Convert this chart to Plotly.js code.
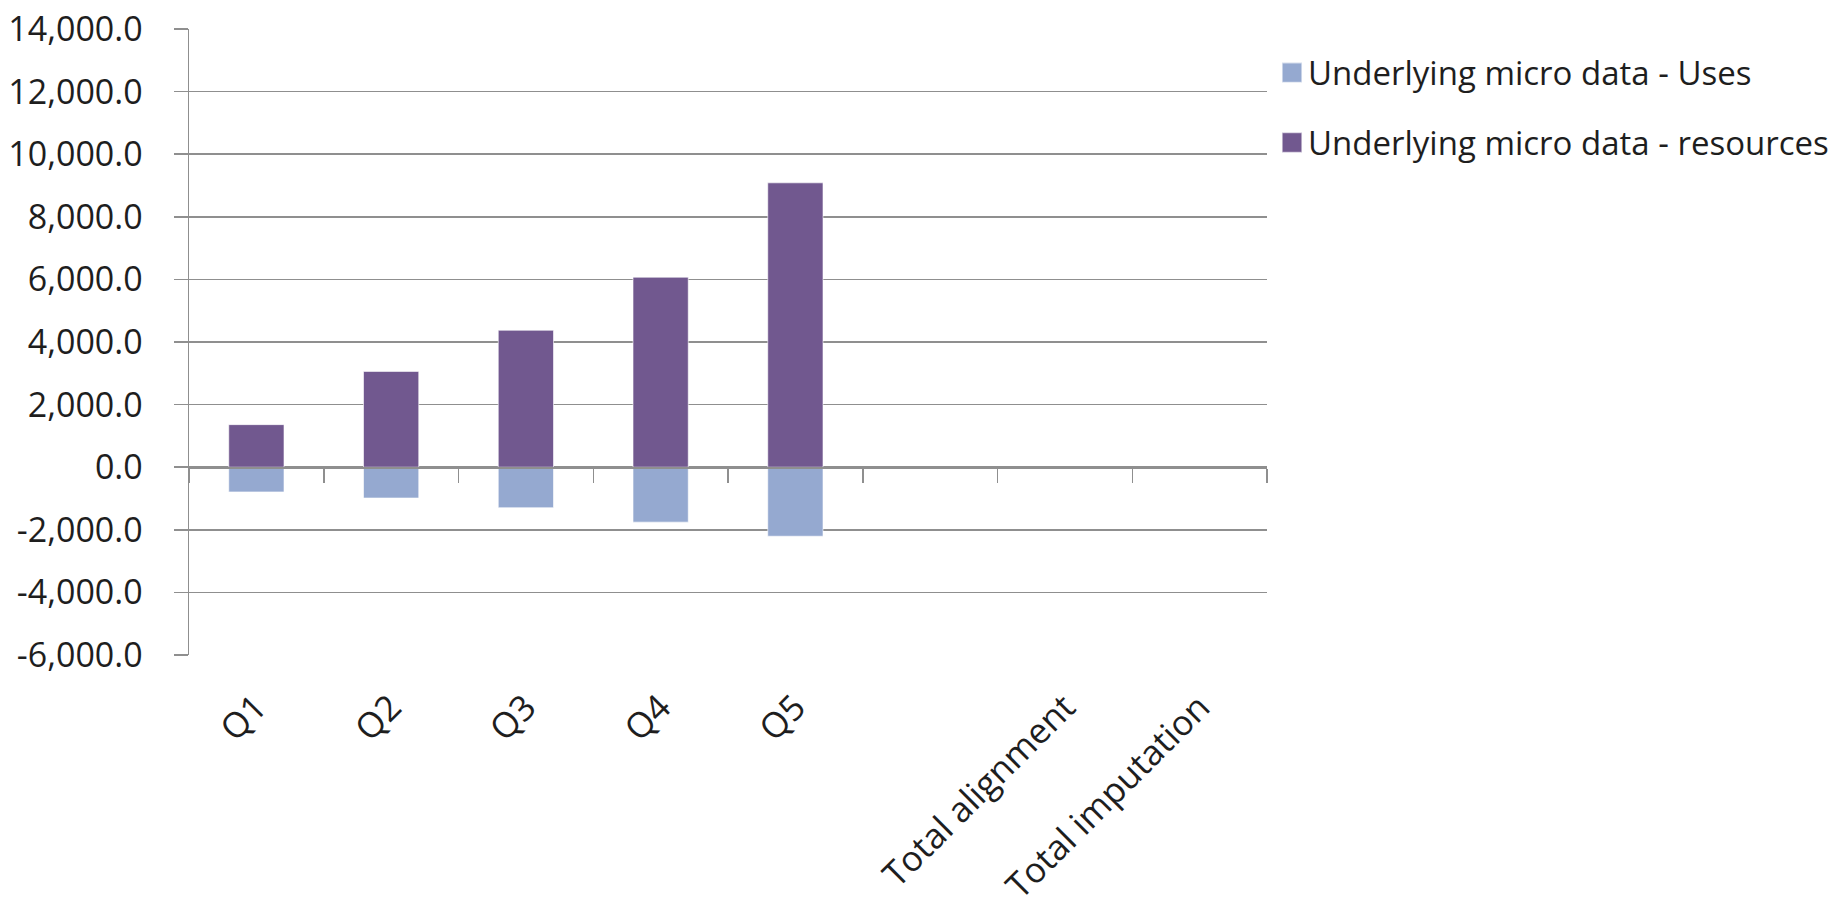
<!DOCTYPE html>
<html>
<head>
<meta charset="utf-8">
<script src="https://cdn.plot.ly/plotly-3.0.1.min.js"></script>
<style>
  html, body { margin: 0; padding: 0; background: #ffffff; }
  #chart { width: 1845px; height: 908px; }
</style>
</head>
<body>
<div id="chart"></div>
<script>
// ---- data ----
const categories = ["Q1", "Q2", "Q3", "Q4", "Q5", " ", "Total alignment", "Total imputation"];
const usesValues = [-790, -985, -1295, -1755, -2205, null, null, null];
const resourcesValues = [1360, 3060, 4375, 6070, 9085, null, null, null];
const seriesNames = ["Underlying micro data - Uses", "Underlying micro data - resources"];
const yTickVals = [-6000, -4000, -2000, 0, 2000, 4000, 6000, 8000, 10000, 12000, 14000];
const yTickText = ["-6,000.0", "-4,000.0", "-2,000.0", "0.0", "2,000.0", "4,000.0", "6,000.0", "8,000.0", "10,000.0", "12,000.0", "14,000.0"];

// ---- styling ----
const gridGray = "#8f8f8f";
const textColor = "#1e1e1e";
const fontFamily = "'Open Sans', 'Noto Sans', sans-serif";
const yMin = yTickVals[0], yMax = yTickVals[yTickVals.length - 1];
const zeroPos = (0 - yMin) / (yMax - yMin);

const traces = [
  {
    type: "bar",
    name: seriesNames[0],
    x: categories,
    y: usesValues,
    legendgroup: "uses",
    marker: { color: "#95a9d0", line: { color: "rgba(255,255,255,0.6)", width: 1 } },
    hoverinfo: "skip"
  },
  {
    type: "bar",
    name: seriesNames[1],
    x: categories,
    y: resourcesValues,
    legendgroup: "resources",
    marker: { color: "#71588f", line: { color: "rgba(255,255,255,0.6)", width: 1 } },
    hoverinfo: "skip"
  }
];

const layout = {
  width: 1845,
  height: 908,
  margin: { l: 189, r: 577, t: 29, b: 253, pad: 0 },
  paper_bgcolor: "#ffffff",
  plot_bgcolor: "#ffffff",
  font: { family: fontFamily, color: textColor },
  barmode: "relative",
  bargap: 0.59,
  showlegend: true,
  legend: {
    x: 1.0, xanchor: "left",
    y: 0.975, yanchor: "top",
    font: { family: fontFamily, size: 33, color: textColor },
    bgcolor: "rgba(0,0,0,0)",
    traceorder: "grouped",
    tracegroupgap: 24,
    itemclick: false
  },
  xaxis: {
    type: "category",
    categoryorder: "array",
    categoryarray: categories,
    range: [-0.5, categories.length - 0.5],
    anchor: "free",
    position: zeroPos,
    side: "bottom",
    showgrid: false,
    zeroline: false,
    showline: true,
    linecolor: gridGray,
    linewidth: 1.5,
    ticks: "outside",
    tickson: "boundaries",
    ticklen: 14,
    tickwidth: 1.5,
    tickcolor: gridGray,
    tickangle: -45,
    tickfont: { family: fontFamily, size: 35, color: textColor },
    ticklabelstandoff: 204,
    fixedrange: true
  },
  yaxis: {
    range: [yMin, yMax],
    tickmode: "array",
    tickvals: yTickVals,
    ticktext: yTickText,
    showgrid: true,
    gridcolor: gridGray,
    gridwidth: 1.5,
    zeroline: false,
    showline: true,
    linecolor: gridGray,
    linewidth: 1.5,
    ticks: "outside",
    ticklen: 14,
    tickwidth: 1.5,
    tickcolor: gridGray,
    tickfont: { family: fontFamily, size: 34, color: textColor },
    ticklabelstandoff: 24,
    fixedrange: true
  }
};

Plotly.newPlot("chart", traces, layout, { displayModeBar: false, staticPlot: true }).then(function (gd) {
  // enlarge the legend colour swatches to match the reference's larger squares
  gd.querySelectorAll(".legend .legendpoints path").forEach(function (p) {
    const t = p.getAttribute("transform") || "";
    p.setAttribute("transform", t + " translate(4,0) scale(1.67)");
  });
});
</script>
</body>
</html>
